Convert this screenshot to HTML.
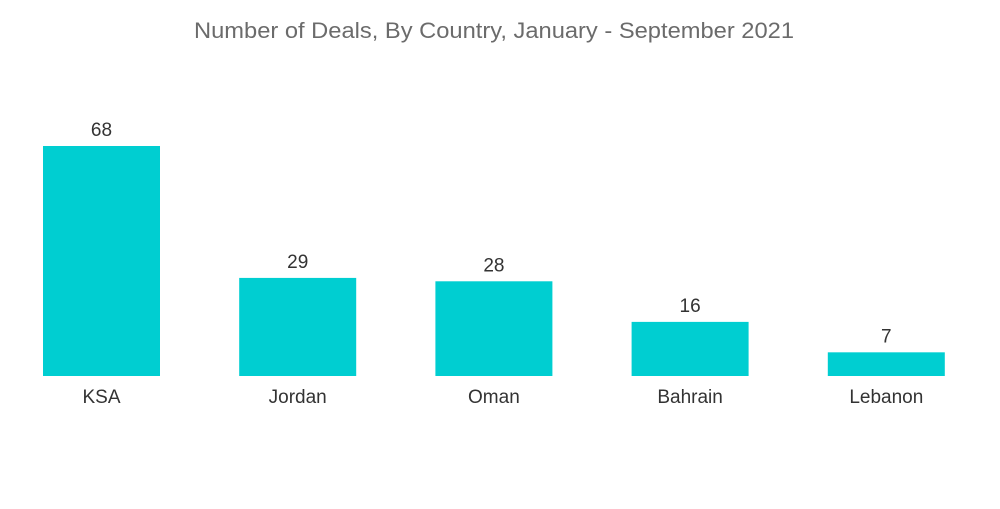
<!DOCTYPE html>
<html><head><meta charset="utf-8"><style>
body{margin:0;background:#fff;width:1000px;height:504px;overflow:hidden;font-family:"Liberation Sans",sans-serif;}
</style></head><body>
<svg width="1000" height="504" xmlns="http://www.w3.org/2000/svg">
<text x="494" y="38" text-anchor="middle" font-size="22" textLength="600" lengthAdjust="spacingAndGlyphs" fill="#6b6b6b" font-family="Liberation Sans, sans-serif">Number of Deals, By Country, January - September 2021</text>
<g id="bars"></g>
</svg>
<script>
const categories=["KSA","Jordan","Oman","Bahrain","Lebanon"];
const values=[68,29,28,16,7];
const baseY=376, pxPerUnit=230/68, firstX=43, step=196.2, barW=117;
const svg=document.getElementById('bars');
const NS="http://www.w3.org/2000/svg";
function xPos(i){return firstX+i*step;}
function yPos(v){return baseY-v*pxPerUnit;}
categories.forEach((c,i)=>{
  const x=xPos(i), y=yPos(values[i]);
  const r=document.createElementNS(NS,'rect');
  
  
  r.setAttribute('x',x);r.setAttribute('y',y);r.setAttribute('width',barW);r.setAttribute('height',baseY-y);
  r.setAttribute('fill','#00ced1');
  svg.appendChild(r);
  const t=document.createElementNS(NS,'text');
  
  
  t.setAttribute('x',x+barW/2);t.setAttribute('y',y-10);t.setAttribute('text-anchor','middle');
  t.setAttribute('font-size','19');t.setAttribute('fill','#333');
  t.textContent=values[i];svg.appendChild(t);
  const l=document.createElementNS(NS,'text');
  
  
  l.setAttribute('x',x+barW/2);l.setAttribute('y',403);l.setAttribute('text-anchor','middle');
  l.setAttribute('font-size','19');l.setAttribute('fill','#333');
  l.textContent=c;svg.appendChild(l);
});
</script>
</body></html>
